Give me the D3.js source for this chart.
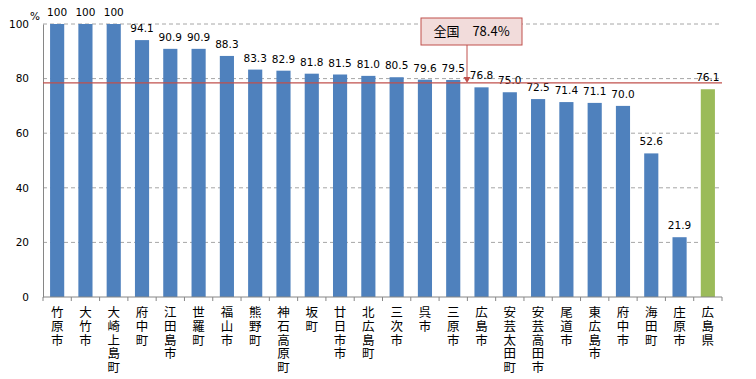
<!DOCTYPE html>
<html><head><meta charset="utf-8">
<script src="https://cdn.jsdelivr.net/npm/d3@7"></script>
<style>body{margin:0;background:#fff}svg{display:block}</style>
</head><body>
<svg id="c" width="756" height="379"></svg>
<script>
const categories = ["竹原市","大竹市","大崎上島町","府中町","江田島市","世羅町","福山市","熊野町","神石高原町","坂町","廿日市市","北広島町","三次市","呉市","三原市","広島市","安芸太田町","安芸高田市","尾道市","東広島市","府中市","海田町","庄原市","広島県"];
const values = [100,100,100,94.1,90.9,90.9,88.3,83.3,82.9,81.8,81.5,81.0,80.5,79.6,79.5,76.8,75.0,72.5,71.4,71.1,70.0,52.6,21.9,76.1];
const valueLabels = ["100","100","100","94.1","90.9","90.9","88.3","83.3","82.9","81.8","81.5","81.0","80.5","79.6","79.5","76.8","75.0","72.5","71.4","71.1","70.0","52.6","21.9","76.1"];
const yTicks = [0,20,40,60,80,100];
const nationalValue = 78.4;
const nationalLabel = "全国　78.4%";
const highlight = "広島県";

const svg = d3.select("#c");
const x = d3.scaleBand().domain(categories).range([43, 722]).paddingInner(0.5).paddingOuter(0.25);
const y = d3.scaleLinear().domain([0,100]).range([297, 24]);
const numFont = "'DejaVu Sans', Verdana, sans-serif";
const jpFont = "'Noto Sans CJK JP', sans-serif";

// gridlines
svg.append("g").selectAll("line").data(yTicks.filter(d=>d>0)).join("line")
  .attr("x1",43).attr("x2",722).attr("y1",d=>y(d)).attr("y2",d=>y(d))
  .attr("stroke","#a6a6a6").attr("stroke-dasharray","4,3").attr("stroke-width",1);

// bars
svg.append("g").selectAll("rect").data(categories).join("rect")
  .attr("x",d=>x(d)).attr("width",x.bandwidth())
  .attr("y",(d,i)=>y(values[i])).attr("height",(d,i)=>y(0)-y(values[i]))
  .attr("fill",d=>d===highlight?"#9bbb59":"#4f81bd");

// value labels
svg.append("g").selectAll("text").data(categories).join("text")
  .attr("x",d=>x(d)+x.bandwidth()/2).attr("y",(d,i)=>y(values[i])-8)
  .attr("text-anchor","middle").attr("font-family",numFont).attr("font-size",10.5)
  .attr("fill","#000").text((d,i)=>valueLabels[i]);

// y axis
const yAxis = svg.append("g").attr("transform","translate(43,0)")
  .call(d3.axisLeft(y).tickValues(yTicks).tickSize(0).tickPadding(14));
yAxis.select(".domain").attr("stroke","#868686");
yAxis.selectAll("text").attr("font-family",numFont).attr("font-size",10.5).attr("fill","#000");
svg.append("text").attr("x",35).attr("y",20).attr("text-anchor","middle")
  .attr("font-family",numFont).attr("font-size",10.5).text("%");

// x axis line and ticks
const bounds = d3.range(categories.length+1).map(i=>43 + (722-43)*i/categories.length);
svg.append("line").attr("x1",43).attr("x2",722).attr("y1",y(0)).attr("y2",y(0)).attr("stroke","#868686");
svg.append("g").selectAll("line").data(bounds).join("line")
  .attr("x1",d=>d).attr("x2",d=>d).attr("y1",y(0)).attr("y2",y(0)+4).attr("stroke","#868686");

// x labels vertical
svg.append("g").selectAll("text").data(categories).join("text")
  .attr("x",d=>x(d)+x.bandwidth()/2).attr("y",306)
  .style("writing-mode","vertical-rl").style("text-orientation","upright")
  .attr("letter-spacing",1.3)
  .attr("font-family",jpFont).attr("font-size",12.5).attr("fill","#000").text(d=>d);

// national line
const ny = y(nationalValue);
svg.append("line").attr("x1",43).attr("x2",722).attr("y1",ny).attr("y2",ny)
  .attr("stroke","#c0504d").attr("stroke-width",1.2);

// annotation
const bx = 421, bw = 101, by = 18, bh = 27;
svg.append("rect").attr("x",bx).attr("y",by).attr("width",bw).attr("height",bh)
  .attr("fill","#f2dcdb").attr("stroke","#c0504d").attr("stroke-width",1);
svg.append("text").attr("x",bx+bw/2).attr("y",by+18).attr("text-anchor","middle")
  .attr("font-family",jpFont).attr("font-size",13).attr("fill","#000").text(nationalLabel);
const ax = 467;
svg.append("line").attr("x1",ax).attr("x2",ax).attr("y1",by+bh).attr("y2",ny-4)
  .attr("stroke","#c0504d").attr("stroke-width",1);
svg.append("path").attr("d",`M${ax-3.5},${ny-6}L${ax+3.5},${ny-6}L${ax},${ny}Z`).attr("fill","#c0504d");
</script>
</body></html>
